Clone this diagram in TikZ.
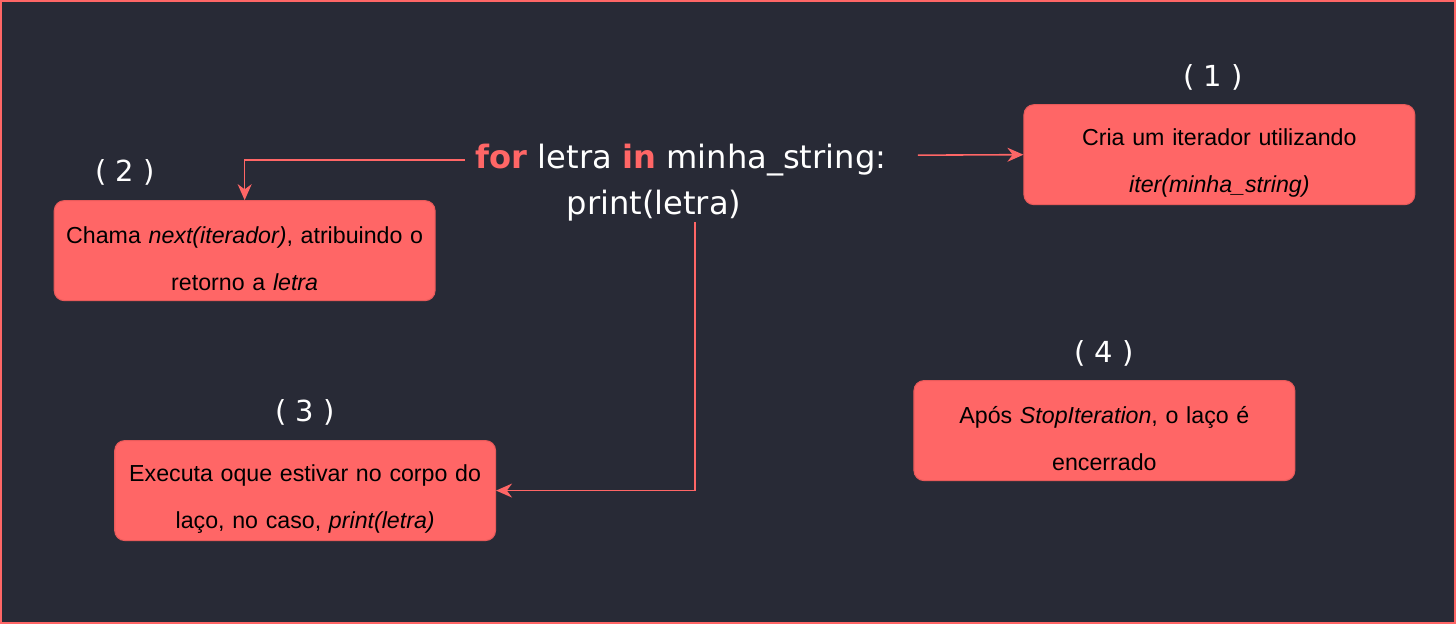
\documentclass[tikz,border=0pt]{standalone}
\usepackage{fontspec}
\setmainfont{Liberation Sans}
\newfontfamily\codefont{DejaVu Sans}
\usetikzlibrary{calc,arrows.meta}

\definecolor{fundo}{HTML}{282A36}
\definecolor{salmao}{HTML}{FF6666}
\definecolor{borda}{HTML}{E85A5A}

\newcommand\topo{\rule{0pt}{19pt}}

\tikzset{
    caixa/.style={rectangle, rounded corners=0.2cm, fill=salmao, draw=borda, line width=0.6pt,
        minimum width=7.62cm, minimum height=2cm, text width=7.3cm, align=center,
        font=\fontsize{13.2}{27}\selectfont, text=black},
    rotulo/.style={text=white, font=\codefont\fontsize{16.5}{18}\selectfont},
    codigo/.style={text=white, inner sep=0pt, font=\codefont\fontsize{18.3}{22}\selectfont},
    seta/.style={draw=salmao, line width=0.9pt, -{Stealth[length=0.32cm, width=0.28cm]}}
}

\begin{document}
\begin{tikzpicture}[x=0.02cm, y=-0.02cm]
    \draw[fill=fundo, draw=salmao, line width=1.4pt] (1,1) rectangle (1455,623);
    \useasboundingbox (0,0) rectangle (1456,624);

    \node[caixa, minimum width=7.82cm] (b1) at (1219.5,154.5) {\topo Cria um iterador utilizando\\ \textit{iter(minha\_string)}};
    \node[caixa] (b2) at (244.5,250.5) {\topo Chama \textit{next(iterador)}, atribuindo o\\ retorno a \textit{letra}};
    \node[caixa] (b3) at (305,490.5) {\topo Executa oque estivar no corpo do\\ la\c{c}o, no caso, \textit{print(letra)}};
    \node[caixa] (b4) at (1104.5,430.5) {\topo Ap\'os \textit{StopIteration}, o la\c{c}o \'e\\ encerrado};

    \node[rotulo] (r1) at (1213,77) {( 1 )};
    \node[rotulo] (r2) at (125,172) {( 2 )};
    \node[rotulo] (r3) at (305,412) {( 3 )};
    \node[rotulo] (r4) at (1104,353) {( 4 )};

    \node[codigo, inner xsep=6pt] (c1) at (681,160) {\textcolor{salmao}{\textbf{for}} letra \textcolor{salmao}{\textbf{in}} minha\_string:};
    \node[codigo, inner ysep=3pt] (c2) at (654,205) {print(letra)};

    \coordinate (s1) at (918,155);
    \coordinate (s3) at (695,222);

    \draw[seta] (s1) -- (b1.west);
    \draw[seta] (c1.west) -| (b2.north);
    \draw[seta] (s3) |- (b3.east);
\end{tikzpicture}
\end{document}
